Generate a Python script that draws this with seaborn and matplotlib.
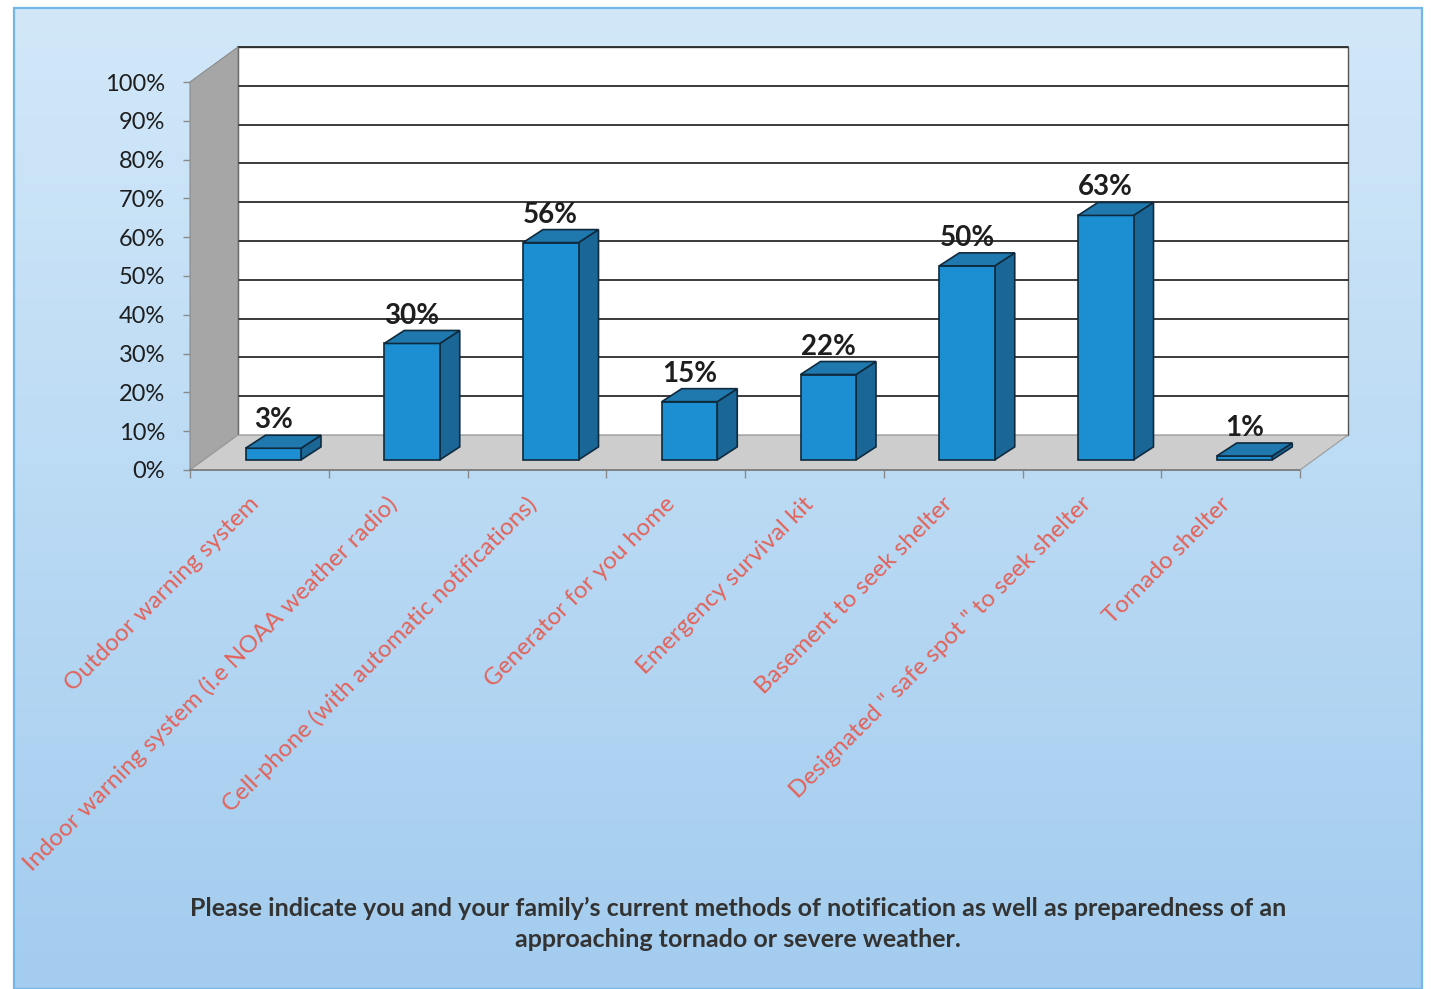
# Survey chart: notification / preparedness methods (3D-style bar chart)
import numpy as np
import pandas as pd
import matplotlib
matplotlib.use('Agg')
import matplotlib.pyplot as plt
import seaborn as sns
from matplotlib.patches import Polygon, Rectangle
from matplotlib.colors import LinearSegmentedColormap
from matplotlib.transforms import ScaledTranslation

# Data
categories = [
    'Outdoor warning system',
    'Indoor warning system (i.e NOAA weather radio)',
    'Cell-phone (with automatic notifications)',
    'Generator for you home',
    'Emergency survival kit',
    'Basement to seek shelter',
    'Designated " safe spot " to seek shelter',
    'Tornado shelter',
]
values = [3, 30, 56, 15, 22, 50, 63, 1]
ytick_values = list(range(0, 101, 10))
ytick_labels = [f'{v}%' for v in ytick_values]
title_text = ("Please indicate you and your family\u2019s current methods of notification as well as preparedness of an\n"
              "approaching tornado or severe weather.")

# Colours
front_color = '#1b8fd2'
side_color = '#1a6797'
top_color = '#1f79ae'
edge_color = '#0f2a3d'
label_red = '#e2635a'

sns.set_theme(style='white')
plt.rcParams['font.family'] = ['Lato', 'DejaVu Sans']

W, H = 1431, 989
fig = plt.figure(figsize=(W / 100, H / 100), dpi=100, facecolor='white')

# Light-blue gradient background with a thin border
bg = fig.add_axes([0, 0, 1, 1], zorder=-10)
bg.set_axis_off()
x0, x1, y0, y1 = 14 / W, 1422 / W, 0.0, 1 - 8 / H
grad = np.linspace(0, 1, 256).reshape(-1, 1)
cmap = LinearSegmentedColormap.from_list('bg', ['#d2e8f9', '#a3ccef'])
bg.imshow(grad, aspect='auto', cmap=cmap, extent=[x0, x1, y0, y1], origin='upper')
bg.add_patch(Rectangle((x0, y0), x1 - x0, y1 - y0, fill=False, edgecolor='#74b6e8', lw=1.6))
bg.set_xlim(0, 1)
bg.set_ylim(0, 1)

# Front plane of the chart
ax = fig.add_axes([190 / W, (H - 470) / H, 1110 / W, 388 / H])
ax.patch.set_alpha(0)

df = pd.DataFrame({'method': categories, 'share': values})
sns.barplot(data=df, x='method', y='share', color=front_color, saturation=1,
            width=0.40, edgecolor=edge_color, linewidth=1.2, ax=ax, zorder=6)
bars = list(ax.patches)

ax.set_xlim(-0.5, 7.5)
ax.set_ylim(0, 100)

# depth of the box (data units) and of the bars
DX, DY = 0.345, 9.0
BX, BY = 0.29 * DX, 0.29 * DY
TX, TY = 0.144, 3.35

# back wall, side wall, floor
ax.add_patch(Rectangle((-0.5 + DX, DY), 8, 100, facecolor='white', edgecolor='#555555',
                       lw=1.0, clip_on=False, zorder=1))
for v in ytick_values[1:]:
    ax.plot([-0.5 + DX, 7.5 + DX], [v + DY, v + DY], color='#2b2b2b', lw=1.3,
            clip_on=False, zorder=2)
ax.add_patch(Polygon([(-0.5, 0), (-0.5, 100), (-0.5 + DX, 100 + DY), (-0.5 + DX, DY)],
                     closed=True, facecolor='#a6a6a6', edgecolor='#8a8a8a', lw=0.8,
                     clip_on=False, zorder=3))
ax.add_patch(Polygon([(-0.5, 0), (7.5, 0), (7.5 + DX, DY), (-0.5 + DX, DY)],
                     closed=True, facecolor='#cdcdcd', edgecolor='#9a9a9a', lw=0.8,
                     clip_on=False, zorder=3))
ax.plot([-0.5, 7.5], [0, 0], color='#7a7a7a', lw=1.2, clip_on=False, zorder=4)

# turn flat bars into boxes
for bar, val in zip(bars, values):
    bar.set_x(bar.get_x() + BX)
    bar.set_y(BY)
    bar.set_clip_on(False)
    xl = bar.get_x()
    xr = xl + bar.get_width()
    yt = BY + bar.get_height()
    ax.add_patch(Polygon([(xr, BY), (xr + TX, BY + TY), (xr + TX, yt + TY), (xr, yt)],
                         closed=True, facecolor=side_color, edgecolor=edge_color,
                         lw=1.2, clip_on=False, zorder=5))
    ax.add_patch(Polygon([(xl, yt), (xr, yt), (xr + TX, yt + TY), (xl + TX, yt + TY)],
                         closed=True, facecolor=top_color, edgecolor=edge_color,
                         lw=1.2, clip_on=False, zorder=7))
    ax.annotate(f'{val}%', xy=((xl + xr) / 2, yt + TY), xytext=(0, 5),
                textcoords='offset points', ha='center', va='baseline',
                fontsize=20, fontweight='bold', color='#1e1e1e', zorder=8,
                annotation_clip=False)

# axes styling
for s in ax.spines.values():
    s.set_visible(False)
ax.set_xlabel('')
ax.set_ylabel('')
ax.set_yticks(ytick_values, ytick_labels)
ax.tick_params(axis='y', left=True, length=5, width=1, color='#8a8a8a', pad=13,
               labelsize=17, labelcolor='#1e1e1e')
ax.set_xticks(range(len(categories)), categories)
ax.set_xticks(np.arange(-0.5, 8, 1), minor=True)
ax.tick_params(axis='x', which='major', length=0, pad=22, labelsize=17.5,
               labelcolor=label_red)
ax.tick_params(axis='x', which='minor', bottom=True, length=6, width=1, color='#8a8a8a')
shift = ScaledTranslation(-4 / 100, 0, fig.dpi_scale_trans)
for lab in ax.get_xticklabels():
    lab.set_rotation(45)
    lab.set_ha('right')
    lab.set_va('center')
    lab.set_rotation_mode('anchor')
    lab.set_transform(lab.get_transform() + shift)

fig.text(738 / W, 1 - 924 / H, title_text, ha='center', va='center', fontsize=18,
         fontweight='bold', color='#333333', linespacing=1.45)

fig.savefig('out.png', dpi=100, facecolor='white')
